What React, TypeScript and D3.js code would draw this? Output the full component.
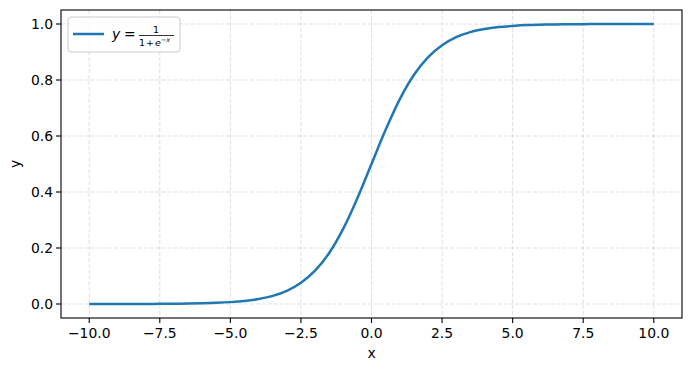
import React from "react";
import * as d3 from "d3";

const xValues = [
  -10, -9.5, -9, -8.5, -8, -7.5, -7, -6.5, -6, -5.5, -5, -4.5, -4, -3.5, -3, -2.5, -2, -1.5, -1, -0.5,
  0, 0.5, 1, 1.5, 2, 2.5, 3, 3.5, 4, 4.5, 5, 5.5, 6, 6.5, 7, 7.5, 8, 8.5, 9, 9.5, 10,
];
const yValues = [
  0.0, 0.0001, 0.0001, 0.0002, 0.0003, 0.0006, 0.0009, 0.0015, 0.0025, 0.0041, 0.0067, 0.011, 0.018,
  0.029, 0.047, 0.076, 0.119, 0.182, 0.269, 0.378, 0.5, 0.622, 0.731, 0.818, 0.881, 0.924, 0.953,
  0.971, 0.982, 0.989, 0.993, 0.996, 0.9975, 0.9985, 0.9991, 0.9994, 0.9997, 0.9998, 0.9999, 0.9999, 1.0,
];
const xTicks = [-10, -7.5, -5, -2.5, 0, 2.5, 5, 7.5, 10];
const yTicks = [0, 0.2, 0.4, 0.6, 0.8, 1.0];

const W = 691;
const H = 371;
const M = { left: 61, right: 682, top: 10, bottom: 318 };
const FONT = "DejaVu Sans, sans-serif";
const FS = 13.9;

export default function App() {
  const x = d3.scaleLinear().domain([-11, 11]).range([M.left, M.right]);
  const y = d3.scaleLinear().domain([-0.05, 1.05]).range([M.bottom, M.top]);
  const pts = xValues.map((v, i) => [v, yValues[i]] as [number, number]);
  const line = d3
    .line<[number, number]>()
    .x((d) => x(d[0]))
    .y((d) => y(d[1]))
    .curve(d3.curveMonotoneX);
  const fmt = (v: number) => v.toFixed(1).replace("-", "\u2212");
  return (
    <svg
      width={W}
      height={H}
      style={{ position: "absolute", left: 0, top: 0, background: "#fff" }}
      fontFamily={FONT}
    >
      <rect x={0} y={0} width={W} height={H} fill="#fff" />
      {/* grid */}
      {xTicks.map((t) => (
        <line
          key={"gx" + t}
          x1={x(t)}
          x2={x(t)}
          y1={M.top}
          y2={M.bottom}
          stroke="#b0b0b0"
          strokeOpacity={0.5}
          strokeWidth={0.8}
          strokeDasharray="4.1,1.8"
        />
      ))}
      {yTicks.map((t) => (
        <line
          key={"gy" + t}
          x1={M.left}
          x2={M.right}
          y1={y(t)}
          y2={y(t)}
          stroke="#b0b0b0"
          strokeOpacity={0.5}
          strokeWidth={0.8}
          strokeDasharray="4.1,1.8"
        />
      ))}
      {/* curve */}
      <path d={line(pts) || ""} fill="none" stroke="#1f77b4" strokeWidth={2.5} />
      {/* axes frame */}
      <rect
        x={M.left}
        y={M.top}
        width={M.right - M.left}
        height={M.bottom - M.top}
        fill="none"
        stroke="#000"
        strokeWidth={1.1}
      />
      {/* x ticks */}
      {xTicks.map((t) => (
        <g key={"xt" + t}>
          <line x1={x(t)} x2={x(t)} y1={M.bottom} y2={M.bottom + 5} stroke="#000" strokeWidth={1.1} />
          <text x={x(t)} y={M.bottom + 20} fontSize={FS} textAnchor="middle" fill="#000">
            {fmt(t)}
          </text>
        </g>
      ))}
      {/* y ticks */}
      {yTicks.map((t) => (
        <g key={"yt" + t}>
          <line x1={M.left - 5} x2={M.left} y1={y(t)} y2={y(t)} stroke="#000" strokeWidth={1.1} />
          <text
            x={M.left - 8}
            y={y(t)}
            fontSize={FS}
            textAnchor="end"
            dominantBaseline="central"
            fill="#000"
          >
            {fmt(t)}
          </text>
        </g>
      ))}
      {/* axis labels */}
      <text x={(M.left + M.right) / 2} y={358} fontSize={FS} textAnchor="middle" fill="#000">
        x
      </text>
      <text
        transform={`translate(20,${(M.top + M.bottom) / 2}) rotate(-90)`}
        fontSize={FS}
        textAnchor="middle"
        fill="#000"
      >
        y
      </text>
      {/* legend */}
      <g>
        <rect
          x={68}
          y={17}
          width={112}
          height={35}
          rx={3}
          fill="#fff"
          fillOpacity={0.8}
          stroke="#ccc"
          strokeWidth={1}
        />
        <line x1={73} x2={104} y1={34} y2={34} stroke="#1f77b4" strokeWidth={2.5} />
        <text x={112} y={39} fontSize={FS} fontStyle="italic" fill="#000">
          y
        </text>
        <text x={124} y={39} fontSize={FS} fill="#000">
          =
        </text>
        <text x={156} y={32.5} fontSize={9.5} textAnchor="middle" fill="#000">
          1
        </text>
        <line x1={139} x2={174} y1={35.5} y2={35.5} stroke="#000" strokeWidth={0.8} />
        <text x={139} y={46} fontSize={9.5} fill="#000">
          1
          <tspan dx={1}>+</tspan>
          <tspan dx={1} fontStyle="italic">e</tspan>
          <tspan fontSize={6.5} dy={-4}>
            {"\u2212"}
            <tspan fontStyle="italic">x</tspan>
          </tspan>
        </text>
      </g>
    </svg>
  );
}
